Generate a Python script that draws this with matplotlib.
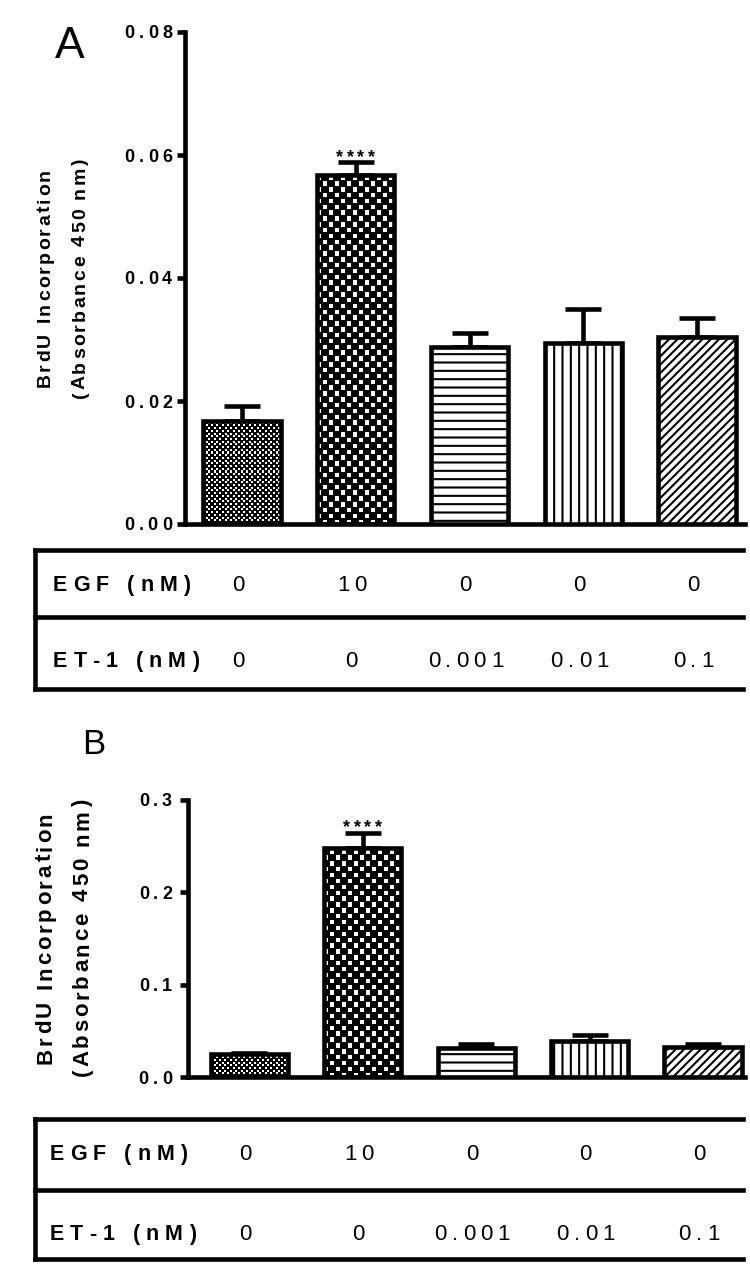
import numpy as np
import matplotlib
matplotlib.use('Agg')
import matplotlib.pyplot as plt
from matplotlib.font_manager import FontProperties
from matplotlib.lines import Line2D

W, H = 750, 1279
FONT = 'Liberation Sans'
LW = 3.3

# data
egf_nm = ['0', '10', '0', '0', '0']
et1_nm = ['0', '0', '0.001', '0.01', '0.1']
mean_a = [0.0167, 0.0568, 0.0287, 0.0294, 0.0304]
err_a = [0.0025, 0.0020, 0.0023, 0.0056, 0.0031]
mean_b = [0.025, 0.248, 0.031, 0.0386, 0.032]
err_b = [0.0008, 0.0163, 0.0043, 0.0065, 0.0033]
ticks_a = [0.0, 0.02, 0.04, 0.06, 0.08]
tick_labels_a = ['0.00', '0.02', '0.04', '0.06', '0.08']
ticks_b = [0.0, 0.1, 0.2, 0.3]
tick_labels_b = ['0.0', '0.1', '0.2', '0.3']
signif = ['', '****', '', '', '']

# fill of each bar: checkerboard (cell size in px) or hatch
textures = [('checker', 2.7), ('checker', 5.8), ('hatch', '--'), ('hatch', '||'), ('hatch', '////')]

plt.rcParams['hatch.linewidth'] = 1.5

fig = plt.figure(figsize=(W / 100, H / 100), dpi=100)
renderer = fig.canvas.get_renderer()


def to_fig(x, y):
    return x / W, 1 - y / H


def to_ref(ax, x, y):
    dx, dy = ax.transData.transform((x, y))
    return dx, H - dy


def spaced_text(x, y, s, size, track, weight='bold', ha='center', rot=0):
    '''text with extra letter spacing; x, y in image pixels, y = middle of the capitals'''
    prop = FontProperties(family=FONT, size=size, weight=weight)

    def ink(t):
        return renderer.get_text_width_height_descent(t, prop, ismath=False)[0]

    space = ink('a a') - ink('aa')
    widths = [space if c == ' ' else ink(c) for c in s]
    total = sum(widths) + track * (len(s) - 1)
    pos = {'center': -total / 2, 'left': 0.0, 'right': -total}[ha]
    half_cap = 0.36 * size * 100 / 72
    for c, w in zip(s, widths):
        mid = pos + w / 2
        pos += w + track
        if c == ' ':
            continue
        if rot == 0:
            fx, fy = to_fig(x + mid, y + half_cap)
        else:
            fx, fy = to_fig(x + half_cap, y - mid)
        fig.text(fx, fy, c, fontproperties=prop, ha='center', va='baseline',
                 rotation=rot, rotation_mode='anchor')


def fig_line(xs, ys):
    fx = [x / W for x in xs]
    fy = [1 - y / H for y in ys]
    fig.add_artist(Line2D(fx, fy, transform=fig.transFigure, color='black',
                          lw=LW, solid_capstyle='projecting'))


def checker(nx, ny, k=4):
    # black board with white squares a bit smaller than a cell
    img = np.zeros((ny * k, nx * k))
    for i in range(ny):
        for j in range(nx):
            if (i + j) % 2:
                img[i * k:(i + 1) * k - 1, j * k:(j + 1) * k - 1] = 1
    return img


def draw_panel(left, top, right, bottom, xlim, means, errs, ticks, tick_labels):
    ax = fig.add_axes([left / W, 1 - bottom / H, (right - left) / W, (bottom - top) / H])
    ax.patch.set_alpha(0)
    x = np.arange(len(means))
    ax.set_xlim(*xlim)
    ax.set_ylim(0, ticks[-1])
    faces = ['none' if kind == 'checker' else 'white' for kind, _ in textures]
    bars = ax.bar(x, means, width=0.68, color=faces, edgecolor='black', linewidth=LW, zorder=3)
    ax.errorbar(x, means, yerr=[np.zeros(len(errs)), errs], fmt='none', ecolor='black',
                elinewidth=LW, capsize=13, capthick=LW, zorder=2)
    for bar, (kind, val) in zip(bars, textures):
        if kind == 'hatch':
            bar.set_hatch(val)
            continue
        x0, x1 = bar.get_x(), bar.get_x() + bar.get_width()
        y1 = bar.get_height()
        (px0, py0), (px1, py1) = ax.transData.transform([(x0, 0), (x1, y1)])
        nx = max(1, round((px1 - px0) / val))
        ny = max(1, round((py1 - py0) / val))
        im = ax.imshow(checker(nx, ny), cmap='gray', vmin=0, vmax=1, extent=(x0, x1, 0, y1),
                       origin='lower', interpolation='nearest', aspect='auto', zorder=2)
        im.set_clip_path(bar)
    ax.set_xlim(*xlim)
    ax.set_ylim(0, ticks[-1])

    for s in ['top', 'right']:
        ax.spines[s].set_visible(False)
    for s in ['left', 'bottom']:
        ax.spines[s].set_linewidth(LW)
    ax.set_xticks([])
    ax.set_yticks(ticks)
    ax.tick_params(axis='y', length=6, width=LW, labelleft=False)

    for t, lab in zip(ticks, tick_labels):
        ry = to_ref(ax, 0, t)[1]
        spaced_text(172, ry, lab, 13, 4, ha='right')

    for i, s in enumerate(signif):
        if s:
            rx, ry = to_ref(ax, i, means[i] + errs[i])
            spaced_text(rx, ry - 7, s, 13, 3.5)
    return ax


def draw_table(ax, top, mid, bottom, label_x, row_y):
    fig_line([35, 35], [top, bottom])
    for y in (top, mid, bottom):
        fig_line([35, 743], [y, y])
    for y, name, vals in zip(row_y, ['EGF (nM)', 'ET-1 (nM)'], [egf_nm, et1_nm]):
        spaced_text(label_x, y, name, 15.5, 6, ha='left')
        for i, v in enumerate(vals):
            rx = to_ref(ax, i, 0)[0]
            spaced_text(rx - 4, y, v, 16, 5, weight='normal')


# Panel A
ax_a = draw_panel(185, 32, 745, 524, (-0.5, 4.42), mean_a, err_a, ticks_a, tick_labels_a)
spaced_text(43, 278, 'BrdU Incorporation', 14, 2.3, rot=90)
spaced_text(78, 278, '(Absorbance 450 nm)', 14, 2.3, rot=90)
spaced_text(70, 42, 'A', 32, 0, weight='normal')
draw_table(ax_a, 550, 617, 689, 53, [583, 659])

# Panel B
ax_b = draw_panel(188, 800, 745, 1077, (-0.54, 4.37), mean_b, err_b, ticks_b, tick_labels_b)
spaced_text(43, 938, 'BrdU Incorporation', 16, 2.8, rot=90)
spaced_text(80, 938, '(Absorbance 450 nm)', 16, 2.8, rot=90)
spaced_text(94, 742, 'B', 25, 0, weight='normal')
draw_table(ax_b, 1119, 1190, 1259, 50, [1152, 1232])

fig.savefig('out.png', dpi=100)
